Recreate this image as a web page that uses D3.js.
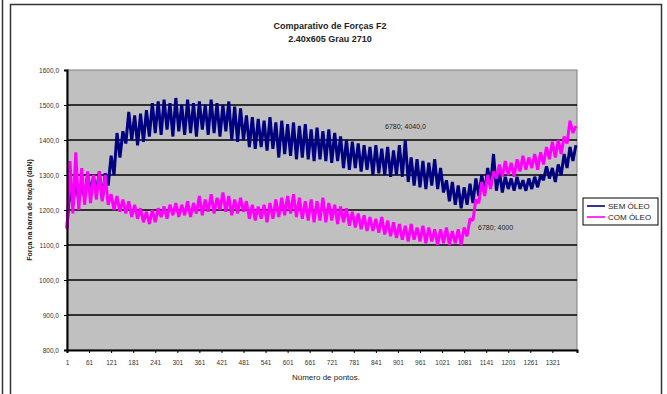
<!DOCTYPE html>
<html>
<head>
<meta charset="utf-8">
<script src="https://cdn.jsdelivr.net/npm/d3@7"></script>
<style>
  body { margin: 0; background: #fff; }
  svg { font-family: "Liberation Sans", Arial, sans-serif; }
</style>
</head>
<body>
<svg id="chart" width="667" height="394"></svg>
<script>
// Chart data (one sample every 8 points)
const titleLines = ['Comparativo de Forças F2', '2.40x605 Grau 2710'];
const seriesNames = ['SEM ÓLEO', 'COM ÓLEO'];
const seriesColors = ['#000080', '#ff00ff'];
const pointStep = 8;
const pointCount = 1388;
const xTickValues = [1, 61, 121, 181, 241, 301, 361, 421, 481, 541, 601, 661, 721, 781, 841, 901, 961, 1021, 1081, 1141, 1201, 1261, 1321];
const yTickValues = [800, 900, 1000, 1100, 1200, 1300, 1400, 1500, 1600];
const xLabel = 'Número de pontos.';
const yLabel = 'Força na barra de tração (daN)';
const notes = [
  { text: '6780; 4040,0', at: 866, value: 1431 },
  { text: '6780; 4000', at: 1119, value: 1143 }
];

const semOleo = [
  1150, 1265, 1215, 1290, 1225, 1280, 1235, 1300, 1255, 1295,
  1250, 1310, 1230, 1305, 1270, 1355, 1300, 1420, 1350, 1425,
  1390, 1480, 1400, 1470, 1385, 1475, 1395, 1485, 1410, 1505,
  1420, 1510, 1415, 1515, 1430, 1505, 1410, 1520, 1425, 1500,
  1415, 1515, 1420, 1505, 1410, 1510, 1430, 1500, 1415, 1515,
  1420, 1505, 1410, 1500, 1425, 1510, 1400, 1495, 1395, 1490,
  1400, 1470, 1380, 1465, 1375, 1460, 1380, 1455, 1370, 1465,
  1375, 1450, 1350, 1455, 1360, 1445, 1355, 1450, 1345, 1440,
  1350, 1445, 1345, 1430, 1340, 1435, 1345, 1425, 1340, 1430,
  1335, 1420, 1340, 1410, 1320, 1400, 1315, 1395, 1320, 1390,
  1310, 1385, 1315, 1380, 1300, 1385, 1305, 1375, 1300, 1380,
  1295, 1370, 1300, 1385, 1295, 1400, 1280, 1350, 1270, 1345,
  1265, 1340, 1260, 1335, 1270, 1345, 1260, 1320, 1250, 1285,
  1225, 1280, 1215, 1270, 1205, 1265, 1215, 1275, 1220, 1290,
  1240, 1300, 1250, 1320, 1270, 1360, 1255, 1310, 1250, 1295,
  1260, 1290, 1255, 1295, 1260, 1285, 1255, 1290, 1260, 1295,
  1265, 1300, 1285, 1325, 1290, 1320, 1280, 1330, 1300, 1360,
  1320, 1380, 1340, 1385
];

const comOleo = [
  1145, 1340, 1190, 1365, 1200, 1320, 1215, 1310, 1220, 1300,
  1230, 1310, 1225, 1300, 1215, 1245, 1200, 1240, 1195, 1230,
  1190, 1225, 1180, 1215, 1175, 1205, 1165, 1195, 1160, 1200,
  1165, 1205, 1180, 1210, 1175, 1215, 1185, 1220, 1180, 1215,
  1185, 1225, 1180, 1220, 1190, 1240, 1185, 1230, 1195, 1245,
  1190, 1235, 1200, 1250, 1195, 1240, 1185, 1230, 1190, 1235,
  1195, 1225, 1175, 1215, 1170, 1210, 1175, 1215, 1165, 1220,
  1175, 1230, 1180, 1235, 1185, 1240, 1190, 1245, 1180, 1235,
  1175, 1225, 1170, 1230, 1165, 1225, 1170, 1235, 1165, 1220,
  1170, 1215, 1160, 1210, 1165, 1205, 1155, 1195, 1150, 1190,
  1145, 1185, 1140, 1180, 1140, 1175, 1135, 1180, 1130, 1170,
  1125, 1165, 1120, 1160, 1115, 1155, 1110, 1160, 1115, 1150,
  1110, 1155, 1105, 1150, 1110, 1145, 1100, 1145, 1105, 1150,
  1100, 1140, 1105, 1145, 1100, 1150, 1125, 1175, 1170, 1230,
  1220, 1280, 1240, 1300, 1260, 1310, 1290, 1330, 1295, 1340,
  1300, 1335, 1295, 1345, 1310, 1355, 1315, 1350, 1320, 1360,
  1315, 1365, 1330, 1380, 1345, 1395, 1350, 1400, 1360, 1410,
  1390, 1455, 1420, 1440
];

const svg = d3.select('#chart');
const plot = { left: 67, right: 577, top: 70, bottom: 350 };

// outer frame like the pasted worksheet
svg.append('line')
    .attr('x1', 2.5).attr('x2', 2.5).attr('y1', 0).attr('y2', 394)
    .attr('stroke', '#333').attr('stroke-width', 1.5);
svg.append('rect')
    .attr('x', 10.5).attr('y', 4.5).attr('width', 651).attr('height', 400)
    .attr('fill', 'none').attr('stroke', '#333').attr('stroke-width', 1.5);

const x = d3.scaleLinear().domain([1, pointCount]).range([plot.left, plot.right]);
const y = d3.scaleLinear().domain([800, 1600]).range([plot.bottom, plot.top]);

// gray plot area
svg.append('rect')
    .attr('x', plot.left).attr('y', plot.top)
    .attr('width', plot.right - plot.left).attr('height', plot.bottom - plot.top)
    .attr('fill', '#c0c0c0').attr('stroke', '#808080').attr('stroke-width', 1);

// gridlines
svg.append('g')
    .selectAll('line')
    .data(yTickValues.slice(1, -1))
    .join('line')
    .attr('x1', plot.left).attr('x2', plot.right)
    .attr('y1', d => y(d)).attr('y2', d => y(d))
    .attr('stroke', '#000').attr('stroke-width', 1.3);

// series
const line = d3.line()
    .x((d, i) => x(1 + i * pointStep))
    .y(d => y(d));

[semOleo, comOleo].forEach((data, k) => {
  svg.append('path')
      .datum(data)
      .attr('d', line)
      .attr('fill', 'none')
      .attr('stroke', seriesColors[k])
      .attr('stroke-width', 3)
      .attr('stroke-linejoin', 'bevel');
});

// data labels
svg.append('g')
    .selectAll('text')
    .data(notes)
    .join('text')
    .attr('x', d => x(d.at))
    .attr('y', d => y(d.value))
    .attr('font-size', 7)
    .attr('fill', '#222')
    .text(d => d.text);

// axes
const yAxis = svg.append('g')
    .attr('transform', 'translate(' + plot.left + ',0)')
    .call(d3.axisLeft(y).tickValues(yTickValues).tickSize(3).tickPadding(5)
      .tickFormat(d => d3.format('.1f')(d).replace('.', ',')));
const xAxis = svg.append('g')
    .attr('transform', 'translate(0,' + plot.bottom + ')')
    .call(d3.axisBottom(x).tickValues(xTickValues).tickSize(3).tickPadding(7)
      .tickFormat(d3.format('d')));

[yAxis, xAxis].forEach(a => {
  a.select('.domain').attr('stroke', '#000').attr('stroke-width', 2);
  a.selectAll('.tick line').attr('stroke', '#000');
  a.selectAll('.tick text').attr('font-size', 6.5).attr('fill', '#333')
      .attr('font-family', '"Liberation Sans", Arial, sans-serif');
});

// titles
svg.append('g')
    .selectAll('text')
    .data(titleLines)
    .join('text')
    .attr('x', 330).attr('y', (d, i) => 29 + i * 13)
    .attr('text-anchor', 'middle')
    .attr('font-size', 9).attr('font-weight', 'bold').attr('fill', '#222')
    .text(d => d);

svg.append('text')
    .attr('x', 326).attr('y', 380)
    .attr('text-anchor', 'middle')
    .attr('font-size', 8).attr('fill', '#222')
    .text(xLabel);

svg.append('text')
    .attr('transform', 'translate(32,' + 210 + ') rotate(-90)')
    .attr('text-anchor', 'middle')
    .attr('font-size', 7).attr('font-weight', 'bold').attr('fill', '#222')
    .text(yLabel);

// legend
const legend = svg.append('g').attr('transform', 'translate(583,198)');
legend.append('rect')
    .attr('width', 75).attr('height', 27)
    .attr('fill', '#fff').attr('stroke', '#000').attr('stroke-width', 1);
const item = legend.selectAll('g.item')
    .data(seriesNames)
    .join('g')
    .attr('class', 'item')
    .attr('transform', (d, i) => 'translate(0,' + (8 + i * 11) + ')');
item.append('line')
    .attr('x1', 4).attr('x2', 22)
    .attr('stroke', (d, i) => seriesColors[i]).attr('stroke-width', 1.6);
item.append('text')
    .attr('x', 25).attr('y', 3)
    .attr('font-size', 8).attr('fill', '#222')
    .text(d => d);
</script>
</body>
</html>
